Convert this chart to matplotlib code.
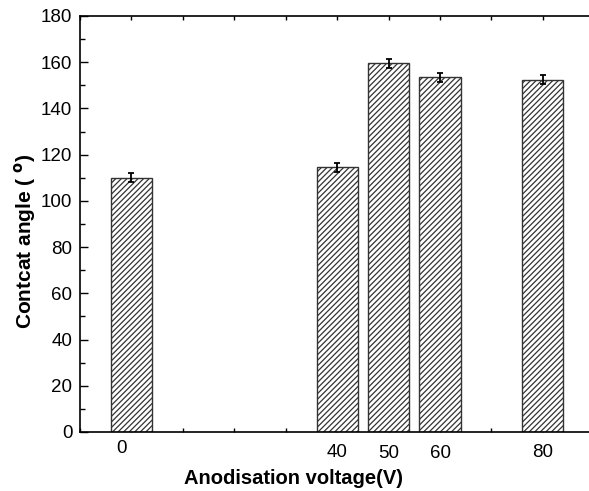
import matplotlib
matplotlib.use("Agg")
import matplotlib.pyplot as plt
from matplotlib.ticker import MultipleLocator

plt.rcParams['font.family'] = ['Liberation Sans', 'DejaVu Sans']
plt.rcParams['hatch.linewidth'] = 0.9

voltages = [0, 40, 50, 60, 80]
angles = [110.0, 114.5, 159.5, 153.5, 152.5]
errors = [2.0, 2.0, 2.0, 2.0, 2.0]
tick_labels = ["0", "40", "50", "60", "80"]
label_x = [-1.9, 40, 50, 60, 80]
label_dy = [-15, -18, -18.7, -18.7, -18]

fig = plt.figure(figsize=(5.89, 4.91), dpi=100)
ax = fig.add_axes([80/589, 1 - 432/491, 1 - 80/589 + 0.002, (432-16)/491])

ax.bar(voltages, angles, width=8, color='white', edgecolor='#333333',
       linewidth=1.0, hatch='//////', zorder=2)
ax.errorbar(voltages, angles, yerr=errors, fmt='none', ecolor='black',
            elinewidth=1.3, capsize=2.5, capthick=1.3, zorder=3)

ax.set_xlim(-10, 89.2)
ax.set_ylim(0, 180)
ax.yaxis.set_major_locator(MultipleLocator(20))
ax.yaxis.set_minor_locator(MultipleLocator(10))
ax.xaxis.set_major_locator(MultipleLocator(10))
ax.set_xticklabels([])
ax.tick_params(axis='x', which='major', direction='in', length=3, width=1.0,
               top=True, bottom=True, labelbottom=False)
ax.tick_params(axis='y', which='major', direction='in', length=6, width=1.0,
               labelsize=13.5, pad=5.5)
ax.tick_params(axis='y', which='minor', direction='in', length=3.5, width=1.0)
ax.spines['right'].set_visible(False)
for s in ['left', 'bottom', 'top']:
    ax.spines[s].set_linewidth(1.2)

for x, t, dy in zip(label_x, tick_labels, label_dy):
    ax.annotate(t, xy=(x, 0), xycoords='data', xytext=(0, dy),
                textcoords='offset points', ha='center', va='baseline', fontsize=13.5)

fig.text(294/589, 1 - 478/491, 'Anodisation voltage(V)', ha='center', va='center',
         fontsize=14.5, fontweight='bold')
fig.text(25/589, 1 - 241/491, r'Contcat angle ( $^{\mathbf{o}}$)', ha='center', va='center',
         rotation=90, fontsize=15, fontweight='bold')

fig.savefig('out.png', dpi=100)
